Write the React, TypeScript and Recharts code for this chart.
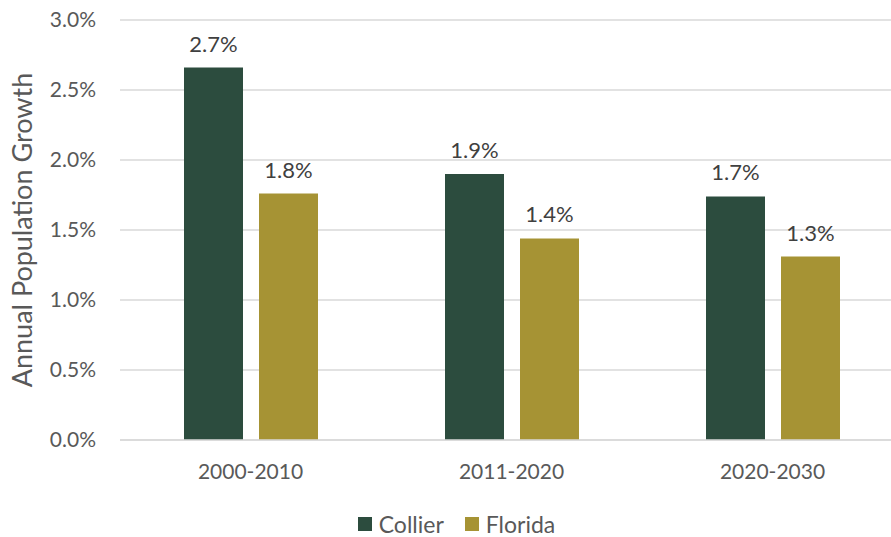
import { BarChart, Bar, XAxis, YAxis, CartesianGrid, Legend, LabelList } from 'recharts'

const periods = ['2000-2010', '2011-2020', '2020-2030']
const collier = [2.66, 1.9, 1.74]
const florida = [1.76, 1.44, 1.31]
const yTicks = [0, 0.5, 1, 1.5, 2, 2.5, 3]

const GREEN = '#2C4C3E'
const GOLD = '#A69334'
const FONT = 'Lato, "Noto Sans", sans-serif'

const data = periods.map((p, i) => ({ period: p, Collier: collier[i], Florida: florida[i] }))

const pct = (v: number) => `${Number(v).toFixed(1)}%`

const seriesKeys = [
  { key: 'Collier', color: GREEN },
  { key: 'Florida', color: GOLD },
]

// plot runs slightly past the right edge in the original, so draw wider and clip
const ChartLegend = () => (
  <div style={{ display: 'flex', justifyContent: 'center', alignItems: 'center', paddingLeft: 10, height: 27, fontSize: 23, color: '#595959', fontFamily: FONT }}>
    {seriesKeys.map((s, i) => (
      <div key={s.key} style={{ display: 'flex', alignItems: 'center', marginLeft: i ? 21 : 0 }}>
        <span style={{ width: 14, height: 14, background: s.color, marginRight: 7, display: 'inline-block' }} />
        <span>{s.key}</span>
      </div>
    ))}
  </div>
)

export default function App() {
  return (
    <div style={{ position: 'absolute', left: 0, top: 0, width: 891, height: 537, overflow: 'hidden', background: '#fff', fontFamily: FONT }}>
      <BarChart
        width={903}
        height={537}
        data={data}
        margin={{ top: 20, right: 0, bottom: 0, left: 0 }}
        barCategoryGap={64}
        barGap={16}
      >
        <CartesianGrid vertical={false} stroke="#D9D9D9" strokeWidth={1.5} />
        <XAxis
          dataKey="period"
          axisLine={{ stroke: '#D9D9D9', strokeWidth: 1.5 }}
          tickLine={false}
          tickSize={0}
          tickMargin={24}
          height={70}
          tick={{ fontSize: 21, fill: '#595959', fontFamily: FONT }}
        />
        <YAxis
          domain={[0, 3]}
          ticks={yTicks}
          tickFormatter={pct}
          axisLine={false}
          tickLine={false}
          tickSize={0}
          tickMargin={24}
          width={120}
          tick={{ fontSize: 21, fill: '#595959', fontFamily: FONT }}
          label={{
            value: 'Annual Population Growth',
            angle: -90,
            position: 'insideLeft',
            offset: 22,
            style: { textAnchor: 'middle', fontSize: 27, fill: '#595959', fontFamily: FONT },
          }}
        />
        <Legend verticalAlign="bottom" height={27} content={<ChartLegend />} />
        <Bar dataKey="Collier" fill={GREEN} isAnimationActive={false}>
          <LabelList dataKey="Collier" position="top" offset={16} formatter={pct} style={{ fontSize: 22, fill: '#404040', fontFamily: FONT }} />
        </Bar>
        <Bar dataKey="Florida" fill={GOLD} isAnimationActive={false}>
          <LabelList dataKey="Florida" position="top" offset={16} formatter={pct} style={{ fontSize: 22, fill: '#404040', fontFamily: FONT }} />
        </Bar>
      </BarChart>
    </div>
  )
}
